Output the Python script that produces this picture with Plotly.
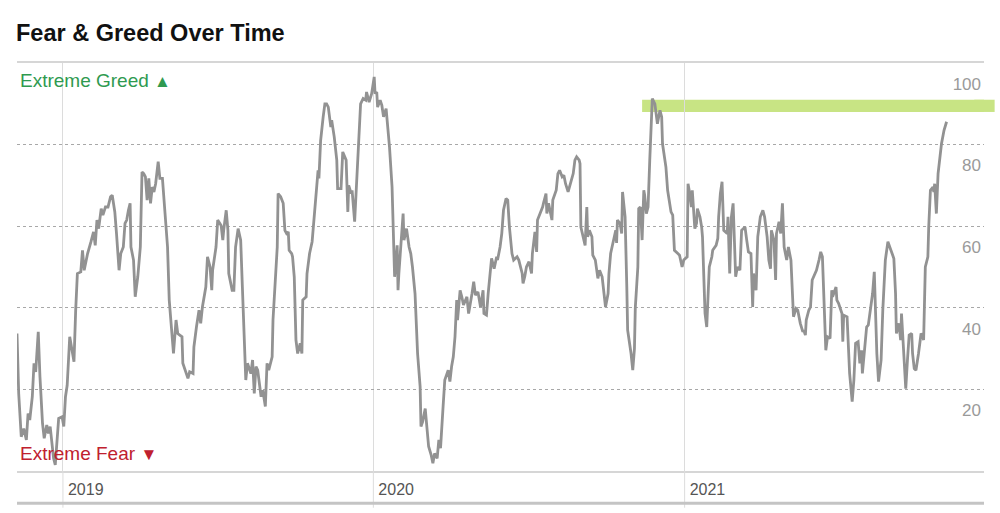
import plotly.graph_objects as go

# ---------------- data ----------------
dates = [
    "2018-11-08", "2018-11-10", "2018-11-13", "2018-11-16", "2018-11-19", "2018-11-21", "2018-11-23",
    "2018-11-26", "2018-11-28", "2018-11-30", "2018-12-03", "2018-12-05", "2018-12-08", "2018-12-10",
    "2018-12-13", "2018-12-15", "2018-12-17", "2018-12-19", "2018-12-21", "2018-12-23", "2018-12-25",
    "2018-12-27", "2018-12-31", "2019-01-02", "2019-01-04", "2019-01-06", "2019-01-09", "2019-01-12",
    "2019-01-14", "2019-01-16", "2019-01-18", "2019-01-22", "2019-01-24", "2019-01-26", "2019-01-28",
    "2019-01-30", "2019-02-03", "2019-02-06", "2019-02-08", "2019-02-10", "2019-02-12", "2019-02-15",
    "2019-02-17", "2019-02-20", "2019-02-23", "2019-02-26", "2019-02-28", "2019-03-03", "2019-03-05",
    "2019-03-08", "2019-03-10", "2019-03-13", "2019-03-15", "2019-03-17", "2019-03-19", "2019-03-21",
    "2019-03-22", "2019-03-25", "2019-03-27", "2019-03-30", "2019-04-02", "2019-04-04", "2019-04-06",
    "2019-04-08", "2019-04-10", "2019-04-12", "2019-04-14", "2019-04-16", "2019-04-18", "2019-04-20",
    "2019-04-23", "2019-04-25", "2019-04-28", "2019-04-30", "2019-05-02", "2019-05-04", "2019-05-06",
    "2019-05-08", "2019-05-11", "2019-05-14", "2019-05-16", "2019-05-21", "2019-05-22", "2019-05-28",
    "2019-05-30", "2019-06-03", "2019-06-04", "2019-06-07", "2019-06-10", "2019-06-12", "2019-06-14",
    "2019-06-18", "2019-06-20", "2019-06-23", "2019-06-25", "2019-06-26", "2019-06-30", "2019-07-02",
    "2019-07-06", "2019-07-08", "2019-07-09", "2019-07-12", "2019-07-14", "2019-07-15", "2019-07-19",
    "2019-07-21", "2019-07-23", "2019-07-26", "2019-07-29", "2019-07-31", "2019-08-02", "2019-08-04",
    "2019-08-06", "2019-08-10", "2019-08-12", "2019-08-14", "2019-08-16", "2019-08-18", "2019-08-22",
    "2019-08-24", "2019-08-27", "2019-08-29", "2019-08-31", "2019-09-04", "2019-09-05", "2019-09-07",
    "2019-09-10", "2019-09-11", "2019-09-14", "2019-09-17", "2019-09-19", "2019-09-21", "2019-09-23",
    "2019-09-24", "2019-09-27", "2019-09-28", "2019-09-30", "2019-10-02", "2019-10-04", "2019-10-07",
    "2019-10-09", "2019-10-10", "2019-10-14", "2019-10-15", "2019-10-18", "2019-10-21", "2019-10-22",
    "2019-10-25", "2019-10-28", "2019-10-29", "2019-10-31", "2019-11-03", "2019-11-05", "2019-11-07",
    "2019-11-09", "2019-11-12", "2019-11-13", "2019-11-16", "2019-11-19", "2019-11-20", "2019-11-24",
    "2019-11-26", "2019-11-30", "2019-12-02", "2019-12-03", "2019-12-06", "2019-12-07", "2019-12-10",
    "2019-12-13", "2019-12-14", "2019-12-17", "2019-12-20", "2019-12-23", "2019-12-24", "2019-12-27",
    "2019-12-30", "2020-01-02", "2020-01-03", "2020-01-05", "2020-01-06", "2020-01-09", "2020-01-11",
    "2020-01-13", "2020-01-16", "2020-01-18", "2020-01-20", "2020-01-23", "2020-01-24", "2020-01-26",
    "2020-01-29", "2020-01-30", "2020-01-31", "2020-02-02", "2020-02-05", "2020-02-06", "2020-02-09",
    "2020-02-12", "2020-02-14", "2020-02-16", "2020-02-19", "2020-02-22", "2020-02-25", "2020-02-26",
    "2020-02-28", "2020-03-02", "2020-03-04", "2020-03-06", "2020-03-09", "2020-03-11", "2020-03-13",
    "2020-03-16", "2020-03-18", "2020-03-20", "2020-03-23", "2020-03-25", "2020-03-29", "2020-03-31",
    "2020-04-02", "2020-04-04", "2020-04-06", "2020-04-08", "2020-04-09", "2020-04-12", "2020-04-14",
    "2020-04-16", "2020-04-20", "2020-04-22", "2020-04-26", "2020-04-28", "2020-04-30", "2020-05-03",
    "2020-05-06", "2020-05-09", "2020-05-10", "2020-05-13", "2020-05-15", "2020-05-17", "2020-05-19",
    "2020-05-22", "2020-05-25", "2020-05-26", "2020-05-29", "2020-05-31", "2020-06-02", "2020-06-05",
    "2020-06-07", "2020-06-09", "2020-06-12", "2020-06-14", "2020-06-18", "2020-06-20", "2020-06-24",
    "2020-06-25", "2020-06-27", "2020-06-29", "2020-07-02", "2020-07-05", "2020-07-06", "2020-07-09",
    "2020-07-11", "2020-07-12", "2020-07-16", "2020-07-18", "2020-07-19", "2020-07-22", "2020-07-23",
    "2020-07-25", "2020-07-29", "2020-07-30", "2020-08-03", "2020-08-05", "2020-08-07", "2020-08-10",
    "2020-08-12", "2020-08-14", "2020-08-17", "2020-08-20", "2020-08-23", "2020-08-25", "2020-08-27",
    "2020-08-30", "2020-08-31", "2020-09-01", "2020-09-03", "2020-09-06", "2020-09-08", "2020-09-09",
    "2020-09-11", "2020-09-14", "2020-09-15", "2020-09-18", "2020-09-21", "2020-09-23", "2020-09-26",
    "2020-09-28", "2020-09-30", "2020-10-03", "2020-10-04", "2020-10-06", "2020-10-09", "2020-10-12",
    "2020-10-13", "2020-10-14", "2020-10-17", "2020-10-19", "2020-10-20", "2020-10-23", "2020-10-25",
    "2020-10-26", "2020-10-30", "2020-11-01", "2020-11-03", "2020-11-04", "2020-11-07", "2020-11-08",
    "2020-11-10", "2020-11-12", "2020-11-14", "2020-11-15", "2020-11-17", "2020-11-19", "2020-11-21",
    "2020-11-23", "2020-11-24", "2020-11-27", "2020-11-29", "2020-11-30", "2020-12-03", "2020-12-05",
    "2020-12-06", "2020-12-10", "2020-12-12", "2020-12-16", "2020-12-18", "2020-12-20", "2020-12-24",
    "2020-12-26", "2020-12-29", "2020-12-31", "2021-01-04", "2021-01-05", "2021-01-07", "2021-01-09",
    "2021-01-10", "2021-01-13", "2021-01-15", "2021-01-16", "2021-01-19", "2021-01-21", "2021-01-22",
    "2021-01-25", "2021-01-27", "2021-01-28", "2021-01-30", "2021-02-02", "2021-02-03", "2021-02-07",
    "2021-02-09", "2021-02-10", "2021-02-12", "2021-02-14", "2021-02-16", "2021-02-20", "2021-02-21",
    "2021-02-23", "2021-02-25", "2021-02-27", "2021-03-02", "2021-03-04", "2021-03-07", "2021-03-09",
    "2021-03-13", "2021-03-15", "2021-03-17", "2021-03-20", "2021-03-22", "2021-03-23", "2021-03-26",
    "2021-03-28", "2021-03-31", "2021-04-03", "2021-04-05", "2021-04-08", "2021-04-10", "2021-04-12",
    "2021-04-13", "2021-04-16", "2021-04-18", "2021-04-19", "2021-04-22", "2021-04-24", "2021-04-26",
    "2021-04-28", "2021-05-01", "2021-05-03", "2021-05-06", "2021-05-09", "2021-05-12", "2021-05-14",
    "2021-05-17", "2021-05-20", "2021-05-21", "2021-05-23", "2021-05-24", "2021-05-27", "2021-05-29",
    "2021-05-31", "2021-06-03", "2021-06-05", "2021-06-08", "2021-06-10", "2021-06-12", "2021-06-14",
    "2021-06-16", "2021-06-18", "2021-06-21", "2021-06-23", "2021-06-24", "2021-06-28", "2021-06-29",
    "2021-07-01", "2021-07-05", "2021-07-06", "2021-07-07", "2021-07-11", "2021-07-12", "2021-07-14",
    "2021-07-17", "2021-07-19", "2021-07-21", "2021-07-24", "2021-07-26", "2021-07-28", "2021-07-29",
    "2021-07-31", "2021-08-03", "2021-08-05", "2021-08-08", "2021-08-10", "2021-08-12", "2021-08-15",
    "2021-08-17", "2021-08-20", "2021-08-22", "2021-08-23", "2021-08-25", "2021-08-28", "2021-08-30",
    "2021-09-02", "2021-09-04", "2021-09-06", "2021-09-07", "2021-09-10", "2021-09-12", "2021-09-13",
    "2021-09-16", "2021-09-18", "2021-09-20", "2021-09-22", "2021-09-25", "2021-09-26", "2021-09-28",
    "2021-09-30", "2021-10-03", "2021-10-06", "2021-10-08", "2021-10-09", "2021-10-11", "2021-10-14",
    "2021-10-15", "2021-10-17", "2021-10-20", "2021-10-21", "2021-10-22", "2021-10-24", "2021-10-26",
    "2021-10-28", "2021-10-30", "2021-11-02", "2021-11-04", "2021-11-05",
]

fear_greed = [
    33.7, 19, 8.4, 10.4, 7.6, 14.1, 12.5,
    18.2, 26.4, 24.3, 34.1, 23.1, 11.7, 8,
    11.3, 9.2, 10.9, 6.8, 3.1, 1.5, 6.8,
    12.9, 13.3, 10.9, 18.2, 21, 32.9, 28.8,
    26.8, 39.4, 48.4, 48.8, 54.1, 49.2, 51.7,
    53.3, 56.2, 58.6, 55.3, 61.5, 59.4, 64.3,
    62.7, 64.7, 64.7, 67.2, 67.6, 63.5, 58.2,
    49.2, 53.3, 54.9, 60.7, 61.5, 63.9, 65.6,
    54.9, 51.7, 42.7, 47.6, 54.9, 73.3, 72.9,
    72.1, 66.4, 71.7, 65.6, 69.6, 68.4, 70.4,
    75.8, 71.7, 71.7, 65.6, 59, 54.9, 41.9,
    37, 28.8, 37, 33.7, 32.9, 26.4, 22.7,
    24.3, 23.9, 30.4, 35.3, 39.4, 36.2, 40.2,
    45.1, 52.5, 50, 44.3, 49.2, 54.9, 61.5,
    60.2, 56.6, 59, 63.9, 59, 48.4, 44.3,
    44.3, 54.9, 59.4, 56.6, 45.1, 31.3, 22.3,
    26.4, 23.9, 27.2, 19, 25.6, 24.7, 18.2,
    19.8, 15.8, 26.4, 24.7, 28, 37, 43.5,
    54.9, 68, 67.2, 65.6, 59, 58.2, 58.6,
    54.1, 53.3, 52.5, 47.6, 32.1, 28.8, 31.3,
    28.8, 41.9, 42.7, 48.4, 53.3, 56.2, 59,
    65.6, 73.7, 71.7, 81, 86.8, 90, 90,
    89.2, 84.3, 86, 81.9, 76.2, 69.2, 69.2,
    78.2, 76.2, 63.5, 70, 68, 68.8, 61.1,
    73.7, 79.4, 90, 91.3, 90.9, 92.9, 90.4,
    92.5, 96.6, 92.5, 92.9, 89.2, 90.9, 89.6,
    86.8, 88.8, 84.3, 79.4, 69.6, 59.8, 47.6,
    55.3, 44.3, 48.4, 54.9, 63.1, 56.6, 59.4,
    54.9, 53.3, 50, 43.5, 28.8, 20.7, 10.9,
    12.1, 15.3, 10, 6, 3.9, 1.9, 4.3,
    3.1, 7.6, 5.6, 15.8, 22.3, 24.7, 21.9,
    25.6, 28, 32.9, 41.9, 37, 44.3, 42.7,
    40.7, 42.7, 38.6, 43.5, 46.4, 43.1, 43.9,
    40.2, 44.3, 38.6, 38.2, 43.5, 47.6, 52.1,
    49.6, 52.5, 51.7, 54.9, 58.2, 63.9, 66.8,
    66.4, 59.8, 53.3, 51.7, 52.5, 51.7, 48.4,
    46, 47.6, 50, 51.3, 48.4, 53.3, 58.6,
    53.7, 61.5, 63.5, 64.7, 65.6, 68, 63.1,
    65.6, 61.5, 66.4, 68.8, 72.9, 73.7, 72.1,
    72.5, 70.4, 68.4, 70.4, 72.9, 76.2, 77,
    76.2, 75.3, 59.8, 58.2, 55.3, 64.7, 57.4,
    59, 57.4, 52.9, 51.7, 47.2, 49.2, 47.6,
    43.5, 40.2, 43.5, 48.4, 53.3, 56.2, 59,
    55.9, 61.5, 60.7, 58.2, 68.4, 62.3, 45.1,
    34.5, 28.8, 24.7, 30, 40, 50, 64.3,
    64.7, 56.6, 68.8, 67.6, 63.1, 64.7, 76.2,
    89.2, 91.3, 90, 86, 85.1, 88.4, 86.8,
    80.2, 74.5, 68.8, 63.5, 62.7, 54.1, 53.3,
    52.9, 50, 51.7, 52.5, 70.4, 68, 64.7,
    68.8, 59.4, 60.7, 64.3, 62.3, 59.8, 57.4,
    38.6, 35.3, 40.2, 50, 52.5, 54.1, 55.3,
    57, 62.3, 68, 70.9, 59, 58.2, 62.3,
    48.4, 62.3, 65.6, 47.6, 50, 49.2, 59,
    59.8, 56.6, 53.7, 53.3, 40.2, 48.4, 44.3,
    57.4, 62.3, 63.9, 62.3, 57.4, 51.7, 49.6,
    59, 56.6, 46.8, 58.2, 61.1, 58.2, 65.6,
    54.9, 51.7, 54.9, 51.7, 37.8, 39.8, 39.4,
    36.2, 34.1, 34.5, 33.3, 37, 39.4, 40.2,
    46.8, 48.4, 49.2, 51.7, 53.7, 52.5, 39.4,
    29.6, 32.9, 32.5, 44.3, 42.7, 45.1, 41.9,
    41.1, 38.6, 31.7, 38.2, 37.8, 31.3, 23.9,
    17, 22.3, 31.3, 31.7, 26.4, 29.6, 23.9,
    28, 35.3, 35.8, 41.1, 43.5, 48.8, 28.8,
    21.9, 27.2, 39.4, 43.5, 51.7, 56.2, 54.9,
    52.9, 52.1, 43.5, 33.7, 36.2, 32.1, 38.6,
    28.8, 20.2, 27.2, 33.3, 33.7, 28.8, 25.1,
    24.7, 28.8, 33.7, 32.9, 32.1, 50, 52.5,
    59.8, 68.8, 69.6, 68.4, 70.4, 63.1, 72.9,
    76.2, 80.2, 83.5, 85.1, 85.6,
]

x_range = ["2018-11-08", "2021-12-19"]
year_ticks = ["2019-01-01", "2020-01-01", "2021-01-01"]
year_labels = ["2019", "2020", "2021"]
y_ticks = [20, 40, 60, 80, 100]
y_tick_labels = ["20", "40", "60", "80", "100"]

# highlighted band (light green bar near the top)
band_start = "2020-11-12"
band_end = "2021-12-19"
band_low = 88.0
band_high = 91.0

FONT = "Liberation Sans, Arial, sans-serif"

# ---------------- figure ----------------
fig = go.Figure()

fig.add_trace(go.Scatter(
    x=dates, y=fear_greed, mode="lines",
    line=dict(color="#929292", width=2.8),
    hoverinfo="x+y", showlegend=False,
))

band_color = "#c8e484"
fig.add_shape(type="rect", xref="x", yref="y",
              x0=band_start, x1=band_end, y0=band_low, y1=band_high,
              fillcolor=band_color, line_width=0, layer="below")
fig.add_shape(type="rect", xref="x domain", yref="y",
              x0=0.99, x1=1.011, y0=band_low, y1=band_high,
              fillcolor=band_color, line_width=0, layer="below")

# vertical year lines continuing below the axis
for t in year_ticks:
    fig.add_shape(type="line", xref="x", yref="paper",
                  x0=t, x1=t, y0=-0.09, y1=0,
                  line=dict(color="#dcdcdc", width=1))

# bottom heavy rule
fig.add_shape(type="line", xref="paper", yref="paper",
              x0=0, x1=1, y0=-0.079, y1=-0.079,
              line=dict(color="#c4c4c4", width=3))

fig.add_annotation(xref="paper", yref="paper", x=0, y=0.956,
                   xanchor="left", yanchor="middle", xshift=1, showarrow=False,
                   text="Extreme Greed <span style='font-size:17px'>▲</span>",
                   font=dict(family=FONT, size=19, color="#2f9a50"))
fig.add_annotation(xref="paper", yref="paper", x=0, y=0.044,
                   xanchor="left", yanchor="middle", xshift=1, showarrow=False,
                   text="Extreme Fear <span style='font-size:17px'>▼</span>",
                   font=dict(family=FONT, size=19, color="#c0202e"))

fig.update_layout(
    width=1000, height=513,
    margin=dict(l=17, r=16, t=63, b=42),
    paper_bgcolor="white", plot_bgcolor="white",
    title=dict(text="<b>Fear &amp; Greed Over Time</b>", xref="container", yref="container",
               x=0.016, xanchor="left", y=0.937, yanchor="middle",
               font=dict(family=FONT, size=23.5, color="#111111")),
    xaxis=dict(
        type="date", range=x_range,
        tickvals=year_ticks, ticktext=year_labels,
        showgrid=True, gridcolor="#dcdcdc", gridwidth=1,
        ticks="", ticklabelposition="outside right",
        ticklabelshift=4, ticklabelstandoff=3,
        tickfont=dict(family=FONT, size=16, color="#555555"),
        showline=True, linecolor="#d6d6d6", linewidth=2, mirror=True,
        zeroline=False, fixedrange=True,
    ),
    yaxis=dict(
        range=[0, 100], side="right",
        tickvals=y_ticks, ticktext=y_tick_labels,
        showgrid=True, gridcolor="#a8a8a8", gridwidth=1, griddash="dot",
        ticks="", ticklabelposition="inside bottom",
        ticklabelshift=9,
        tickfont=dict(family=FONT, size=17, color="#9a9a9a"),
        showline=False, zeroline=False, fixedrange=True,
    ),
    hovermode="x",
)

fig.write_html("out.html")
